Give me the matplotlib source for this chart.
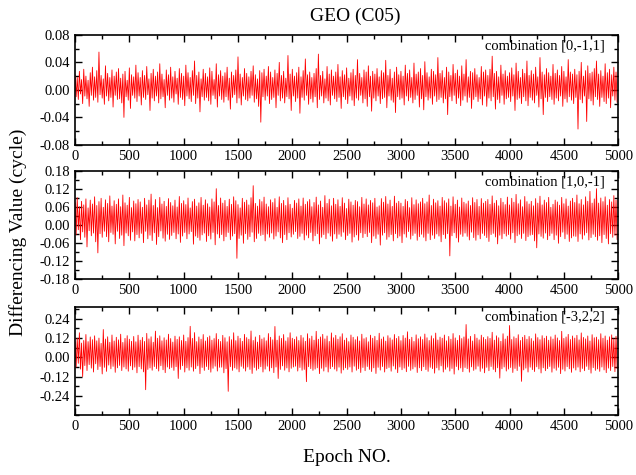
import numpy as np
import matplotlib.pyplot as plt

# Differencing values, in units of 0.001 cycle.
# upward excursions at epochs 0, 20, 40, ... and downward excursions at epochs 10, 30, 50, ...
epochs = np.arange(0, 5000, 10)

hi1 = [22, 18, 27, 15, 30, 20, 14, 25, 33, 19,
       28, 55, 21, 16, 35, 24, 18, 29, 20, 26,
       31, 17, 23, 27, 14, 32, 22, 19, 36, 25,
       18, 28, 21, 34, 16, 24, 30, 20, 26, 38,
       23, 15, 29, 22, 33, 19, 27, 17, 31, 24,
       20, 36, 25, 18, 28, 42, 21, 26, 16, 30,
       24, 19, 32, 27, 15, 38, 22, 28, 20, 25,
       33, 17, 26, 21, 29, 48, 23, 18, 31, 24,
       19, 27, 35, 22, 16, 28, 25, 30, 20, 34,
       26, 18, 29, 24, 40, 21, 27, 17, 50, 23,
       30, 20, 25, 33, 19, 28, 45, 22, 26, 18,
       24, 31, 52, 21, 27, 16, 34, 23, 29, 20,
       26, 37, 19, 28, 22, 32, 17, 25, 30, 21,
       44, 24, 18, 29, 26, 35, 20, 27, 23, 31,
       19, 28, 25, 43, 21, 30, 17, 26, 33, 22,
       27, 20, 36, 24, 29, 18, 39, 23, 26, 31,
       21, 41, 25, 19, 30, 27, 22, 47, 24, 28,
       18, 33, 26, 21, 37, 24, 29, 20, 35, 23,
       44, 19, 27, 25, 31, 22, 18, 34, 26, 29,
       21, 30, 49, 24, 27, 19, 36, 23, 28, 20,
       25, 32, 22, 39, 27, 18, 30, 24, 42, 21,
       28, 23, 33, 19, 47, 26, 22, 31, 25, 20,
       37, 24, 29, 21, 34, 27, 19, 44, 26, 23,
       30, 22, 27, 40, 20, 28, 35, 24, 26, 31,
       42, 23, 28, 20, 38, 25, 30, 22, 33, 26]
lo1 = [-10, -14, -6, -20, -9, -13, -24, -8, -15, -11,
       -18, -7, -12, -21, -9, -16, -11, -25, -8, -14,
       -13, -19, -40, -10, -15, -27, -8, -12, -17, -9,
       -22, -11, -14, -7, -30, -12, -16, -9, -19, -13,
       -10, -26, -8, -15, -12, -18, -6, -21, -11, -14,
       -23, -9, -13, -17, -8, -20, -12, -32, -10, -15,
       -11, -16, -21, -8, -13, -25, -9, -14, -18, -10,
       -15, -28, -11, -7, -19, -12, -22, -9, -14, -16,
       -12, -8, -18, -13, -24, -47, -10, -15, -9, -20,
       -14, -11, -26, -8, -16, -12, -19, -10, -13, -30,
       -9, -17, -12, -34, -11, -15, -8, -21, -13, -18,
       -10, -26, -14, -9, -19, -12, -16, -22, -8, -13,
       -17, -11, -27, -10, -14, -20, -9, -15, -23, -12,
       -15, -8, -19, -13, -24, -10, -31, -12, -16, -9,
       -20, -13, -11, -26, -9, -15, -18, -33, -10, -14,
       -12, -22, -9, -16, -11, -19, -14, -8, -25, -13,
       -29, -10, -15, -12, -21, -9, -17, -14, -11, -19,
       -13, -36, -10, -16, -8, -20, -12, -23, -15, -9,
       -18, -11, -27, -14, -10, -17, -13, -22, -9, -24,
       -12, -16, -10, -28, -14, -19, -8, -21, -13, -11,
       -17, -9, -30, -14, -12, -20, -10, -16, -23, -11,
       -15, -19, -8, -25, -13, -36, -11, -17, -10, -14,
       -21, -12, -16, -9, -24, -13, -18, -10, -15, -20,
       -11, -57, -14, -19, -9, -46, -13, -16, -22, -10,
       -14, -24, -11, -17, -20, -12, -26, -9, -15, -18]

hi2 = [75, 92, 62, 80, 68, 88, 58, 84, 71, 95,
       66, 79, 90, 60, 85, 73, 98, 64, 82, 70,
       88, 62, 101, 75, 67, 93, 59, 81, 72, 86,
       78, 60, 90, 68, 84, 104, 66, 86, 59, 93,
       71, 80, 63, 89, 76, 65, 84, 61, 96, 73,
       82, 69, 91, 58, 79, 87, 64, 75, 93, 67,
       85, 72, 61, 88, 78, 122, 66, 91, 74, 83,
       63, 87, 70, 95, 82, 69, 58, 90, 77, 84,
       68, 92, 132, 73, 64, 86, 79, 94, 71, 62,
       85, 76, 89, 60, 95, 73, 83, 66, 92, 70,
       57, 83, 74, 88, 64, 91, 70, 79, 86, 62,
       76, 94, 68, 81, 60, 99, 73, 87, 65, 90,
       70, 85, 63, 92, 74, 56, 87, 78, 67, 83,
       79, 62, 93, 71, 88, 68, 83, 75, 90, 61,
       65, 89, 77, 96, 71, 84, 63, 97, 74, 80,
       74, 63, 86, 80, 59, 92, 69, 85, 72, 78,
       90, 72, 78, 101, 66, 87, 75, 82, 64, 93,
       82, 75, 88, 64, 95, 70, 84, 61, 91, 77,
       72, 81, 66, 92, 76, 86, 63, 89, 74, 80,
       86, 70, 98, 74, 83, 65, 90, 77, 69, 94,
       68, 90, 77, 103, 72, 85, 62, 96, 79, 71,
       80, 65, 89, 74, 97, 68, 84, 76, 93, 60,
       70, 84, 78, 67, 93, 72, 88, 64, 81, 90,
       76, 101, 72, 86, 68, 95, 80, 113, 74, 88,
       122, 74, 91, 79, 95, 67, 86, 78, 99, 84]
lo2 = [-32, -15, -48, -22, -40, -72, -18, -35, -26, -55,
       -92, -28, -40, -20, -38, -55, -24, -30, -62, -20,
       -44, -33, -68, -26, -35, -50, -22, -52, -31, -42,
       -27, -58, -20, -45, -33, -51, -25, -64, -38, -19,
       -43, -53, -30, -47, -34, -24, -45, -29, -57, -36,
       -24, -45, -29, -21, -63, -36, -41, -50, -32, -26,
       -54, -35, -46, -24, -65, -29, -42, -31, -52, -38,
       -24, -48, -36, -28, -110, -44, -33, -60, -28, -47,
       -38, -23, -55, -44, -27, -34, -31, -52, -29, -40,
       -26, -46, -36, -22, -42, -58, -31, -48, -25, -39,
       -30, -21, -44, -37, -27, -49, -33, -42, -24, -52,
       -35, -28, -62, -40, -31, -45, -26, -36, -53, -29,
       -44, -30, -37, -23, -48, -34, -27, -56, -39, -32,
       -50, -25, -41, -28, -38, -24, -58, -36, -44, -30,
       -66, -33, -25, -47, -39, -31, -52, -28, -42, -36,
       -58, -29, -40, -21, -46, -34, -27, -50, -38, -30,
       -40, -52, -27, -48, -33, -44, -29, -36, -55, -31,
       -44, -28, -102, -35, -25, -42, -56, -30, -37, -26,
       -37, -49, -23, -41, -50, -32, -45, -27, -34, -41,
       -54, -31, -27, -39, -62, -33, -45, -28, -36, -31,
       -46, -25, -58, -35, -30, -44, -27, -51, -38, -33,
       -31, -52, -75, -29, -37, -43, -26, -48, -35, -27,
       -48, -33, -60, -38, -23, -45, -30, -54, -42, -36,
       -37, -54, -29, -46, -33, -25, -49, -41, -30, -38,
       -50, -35, -58, -31, -44, -62, -28, -40, -33, -47]

hi3 = [95, 118, 152, 88, 104, 141, 97, 126, 109, 133,
       102, 119, 86, 172, 113, 127, 93, 138, 101, 124,
       108, 143, 92, 117, 134, 112, 99, 129, 96, 137,
       106, 123, 98, 148, 114, 127, 93, 162, 118, 133,
       102, 121, 107, 143, 116, 94, 131, 111, 127, 104,
       138, 99, 122, 192, 117, 153, 97, 126, 112, 141,
       101, 123, 132, 106, 116, 147, 111, 98, 136, 121,
       96, 128, 109, 152, 103, 131, 117, 99, 142, 122,
       112, 163, 104, 126, 94, 136, 113, 121, 102, 147,
       124, 108, 191, 106, 132, 117, 141, 101, 122, 152,
       118, 111, 127, 104, 136, 121, 99, 146, 116, 131,
       106, 161, 112, 126, 142, 114, 132, 98, 151, 121,
       136, 112, 127, 146, 106, 119, 97, 138, 124, 109,
       128, 101, 143, 115, 122, 96, 137, 118, 130, 105,
       149, 113, 126, 100, 134, 120, 108, 141, 117, 129,
       103, 135, 119, 158, 111, 124, 98, 139, 115, 127,
       110, 144, 121, 104, 133, 116, 150, 107, 125, 118,
       138, 102, 129, 112, 147, 120, 105, 135, 116, 126,
       203, 114, 130, 101, 142, 119, 108, 137, 123, 111,
       128, 117, 155, 106, 133, 121, 99, 146, 113, 131,
       197, 110, 127, 118, 140, 104, 124, 136, 112, 129,
       116, 101, 145, 122, 109, 134, 118, 131, 106, 127,
       113, 138, 120, 104, 161, 117, 126, 142, 110, 132,
       119, 136, 108, 151, 123, 114, 132, 101, 140, 121,
       125, 109, 146, 118, 132, 106, 127, 139, 115, 130]
lo3 = [-62, -38, -74, -121, -52, -83, -46, -68, -92, -41,
       -77, -58, -104, -63, -88, -49, -72, -57, -94, -66,
       -51, -83, -61, -73, -87, -54, -78, -62, -97, -59,
       -73, -91, -202, -76, -67, -81, -58, -71, -86, -53,
       -78, -96, -61, -72, -64, -82, -59, -132, -76, -53,
       -92, -66, -81, -61, -87, -71, -54, -102, -64, -82,
       -58, -77, -93, -69, -56, -86, -63, -62, -97, -71,
       -212, -59, -82, -66, -74, -91, -57, -69, -86, -61,
       -76, -101, -64, -81, -72, -59, -92, -74, -56, -86,
       -66, -96, -61, -132, -76, -54, -81, -67, -91, -69,
       -61, -56, -86, -64, -81, -76, -152, -59, -71, -82,
       -74, -66, -102, -69, -86, -61, -92, -71, -59, -74,
       -86, -62, -99, -79, -66, -76, -61, -92, -56, -81,
       -72, -95, -64, -84, -58, -76, -89, -66, -101, -63,
       -80, -58, -92, -71, -64, -87, -55, -74, -96, -61,
       -78, -68, -90, -57, -82, -73, -61, -95, -66, -84,
       -59, -77, -88, -63, -71, -99, -66, -80, -54, -92,
       -75, -62, -86, -70, -105, -58, -79, -67, -90, -64,
       -71, -93, -60, -82, -74, -56, -88, -69, -97, -63,
       -84, -58, -76, -91, -66, -130, -72, -61, -86, -74,
       -64, -95, -70, -83, -57, -150, -79, -68, -92, -62,
       -77, -89, -60, -73, -98, -66, -84, -71, -58, -93,
       -69, -81, -63, -102, -75, -86, -59, -72, -94, -67,
       -80, -62, -91, -70, -84, -57, -77, -99, -65, -82,
       -73, -88, -61, -79, -96, -68, -83, -58, -90, -71]

labels = ["combination [0,-1,1]", "combination [1,0,-1]", "combination [-3,2,2]"]
ylims = [(-0.08, 0.08), (-0.18, 0.18), (-0.315, 0.315)]
yticks = [[-0.08, -0.04, 0.0, 0.04, 0.08],
          [-0.18, -0.12, -0.06, 0.0, 0.06, 0.12, 0.18],
          [-0.24, -0.12, 0.0, 0.12, 0.24]]
yminor = [0.02, 0.03, 0.06]

plt.rcParams['font.family'] = 'Liberation Serif'

fig = plt.figure(figsize=(6.36, 4.75), dpi=100)
boxes = [[0.118, 0.695, 0.854, 0.2316],
         [0.118, 0.412, 0.854, 0.2274],
         [0.118, 0.126, 0.854, 0.2287]]

series = [(hi1, lo1), (hi2, lo2), (hi3, lo3)]

for i, (hi, lo) in enumerate(series):
    ax = fig.add_axes(boxes[i])
    # put the up / down excursions back in epoch order
    vals = np.column_stack([hi, lo]).ravel() / 1000.0
    ax.plot(epochs, vals, color='red', lw=0.6)
    ax.set_xlim(0, 5000)
    ax.set_ylim(*ylims[i])
    ax.set_xticks(np.arange(0, 5001, 500))
    ax.set_xticks(np.arange(0, 5001, 250), minor=True)
    ax.set_yticks(yticks[i])
    ax.set_yticks(np.arange(ylims[i][0] - ylims[i][0] % yminor[i], ylims[i][1], yminor[i]), minor=True)
    ax.set_yticklabels([f"{t:.2f}" for t in yticks[i]])
    ax.tick_params(which='both', direction='in', top=True, right=True,
                   labelsize=10.5, width=1.0)
    ax.tick_params(which='major', length=5)
    ax.tick_params(which='minor', length=3)
    for s in ax.spines.values():
        s.set_linewidth(1.2)
    ax.text(0.975, 0.96, labels[i], transform=ax.transAxes, ha='right', va='top', fontsize=10.5)

fig.text(0.558, 0.966, "GEO (C05)", ha='center', va='center', fontsize=14)
fig.text(0.028, 0.51, "Differencing Value (cycle)", rotation=90, ha='center', va='center', fontsize=14)
fig.text(0.546, 0.036, "Epoch NO.", ha='center', va='center', fontsize=14)

fig.savefig("out.png", dpi=100)
